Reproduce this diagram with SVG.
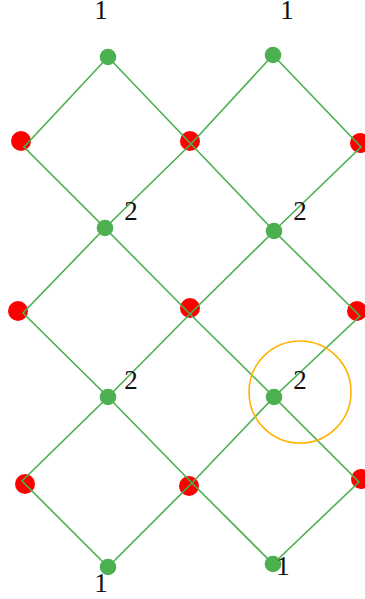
<svg xmlns="http://www.w3.org/2000/svg" width="365" height="599" viewBox="0 0 365 599">
<style>
.e{stroke:#4caf50;stroke-width:1.6;fill:none}
.g{fill:#4caf50}
.r{fill:#ff0000}
.t{font-family:"Liberation Serif","Times New Roman",serif;font-size:27px;fill:#111;text-anchor:middle}
</style>
<rect width="365" height="599" fill="#fff"/>
<g id="nodes-red">
<circle id="r1l" class="r" cx="21" cy="141" r="10"/>
<circle id="r1m" class="r" cx="190" cy="141" r="10"/>
<circle id="r1r" class="r" cx="360" cy="143" r="10"/>
<circle id="r2l" class="r" cx="18" cy="311" r="10"/>
<circle id="r2m" class="r" cx="190" cy="308" r="10"/>
<circle id="r2r" class="r" cx="357" cy="311" r="10"/>
<circle id="r3l" class="r" cx="25" cy="484" r="10"/>
<circle id="r3m" class="r" cx="189" cy="486" r="10"/>
<circle id="r3r" class="r" cx="361" cy="479" r="10"/>
</g>
<g id="edges">
<path class="e" d="M108,57 L24,147 L105,228 L23,313 L108,397 L22,481 L108,567"/>
<path class="e" d="M108,57 L191,144 L274,231 L360,316 L274,397 L359,482 L273,564"/>
<path class="e" d="M273,55 L191,144 L105,228 L190,314 L274,397 L192,483 L108,567"/>
<path class="e" d="M273,55 L361,147 L274,231 L190,314 L108,397 L192,483 L273,564"/>
</g>
<g id="nodes-green">
<circle id="g1a" class="g" cx="108" cy="57" r="8.3"/>
<circle id="g1b" class="g" cx="273" cy="55" r="8.3"/>
<circle id="g2a" class="g" cx="105" cy="228" r="8.3"/>
<circle id="g2b" class="g" cx="274" cy="231" r="8.3"/>
<circle id="g3a" class="g" cx="108" cy="397" r="8.3"/>
<circle id="g3b" class="g" cx="274" cy="397" r="8.3"/>
<circle id="g4a" class="g" cx="108" cy="567" r="8.3"/>
<circle id="g4b" class="g" cx="273" cy="564" r="8.3"/>
</g>
<g id="highlight">
<circle cx="300" cy="392" r="51" fill="none" stroke="#ffb300" stroke-width="1.6"/>
</g>
<g id="labels">
<text class="t" x="101" y="19">1</text>
<text class="t" x="287" y="19">1</text>
<text class="t" x="131" y="220">2</text>
<text class="t" x="300" y="220">2</text>
<text class="t" x="131" y="389">2</text>
<text class="t" x="300" y="389">2</text>
<text class="t" x="101" y="592">1</text>
<text class="t" x="283" y="575">1</text>
</g>
</svg>
